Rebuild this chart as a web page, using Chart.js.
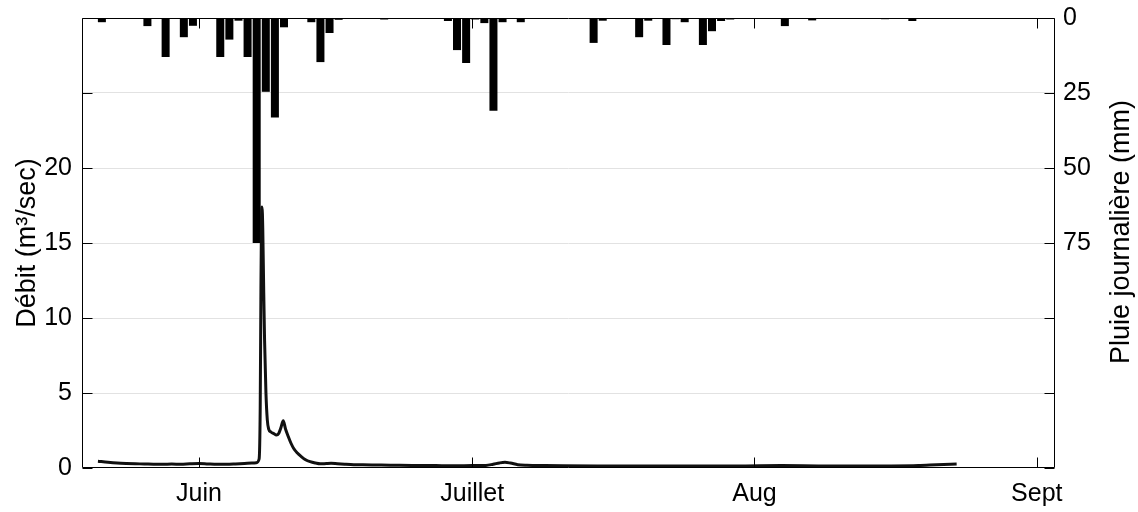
<!DOCTYPE html>
<html>
<head>
<meta charset="utf-8">
<title>Débit et pluie journalière</title>
<script src="https://cdn.jsdelivr.net/npm/chart.js@4.4.1/dist/chart.umd.min.js"></script>
<style>
  html, body { margin: 0; padding: 0; background: #fff; }
  #wrap { width: 1138px; height: 512px; }
</style>
</head>
<body>
<div id="wrap"><canvas id="chart" width="1138" height="512"></canvas></div>
<script>
// Time axis: days counted from 1 June, 00:00
const monthTickDays = [0, 30, 61, 92];
const monthLabels = ['Juin', 'Juillet', 'Aug', 'Sept'];
const dayRange = [-12.85, 94];

// Daily rainfall (mm), read at 08:00 each day
const READING_HOUR = 8;
const rainDays = [-11, -6, -4, -2, -1, 2, 3, 4, 5, 6, 7, 8, 9, 12, 13, 14, 15, 20,
                  27, 28, 29, 30, 31, 32, 33, 35, 43, 44, 48, 49, 51, 52, 53, 55, 56,
                  57, 58, 64, 67, 75, 78];
const rainMm = [1.4, 2.7, 13, 6.4, 2.6, 13, 7.2, 0.9, 13, 75, 24.6, 33.2, 3.1, 1.4, 14.7, 5, 0.6, 0.5,
                1, 10.7, 15, 0.5, 1.7, 30.9, 1.4, 1.4, 8.3, 0.9, 6.4, 0.9, 9, 0.4, 1.4, 9, 4.4,
                1, 0.5, 2.7, 0.8, 0.4, 1];

// Stream discharge (m³/s)
const flowDays = [-11.1, -10, -9, -8, -7, -6, -5, -4, -3, -2, -1, 0, 1, 2, 3, 4, 5, 5.8, 6.3,
                  6.6, 6.72, 6.8, 6.86, 6.92, 7.0, 7.1, 7.2, 7.35, 7.5, 7.65, 7.9, 8.2, 8.5,
                  8.75, 9.0, 9.25, 9.5, 9.8, 10.1, 10.4, 10.8, 11.2, 11.7, 12.2, 12.8, 13.3,
                  14.0, 14.5, 15.2, 16, 17, 18, 20, 22, 24, 26, 28, 30, 31.5, 32.3, 33, 33.6,
                  34.2, 35, 36, 38, 40, 44, 48, 52, 56, 60, 64, 68, 72, 76, 79, 81, 83.2];
const flowM3s = [0.45, 0.38, 0.33, 0.3, 0.28, 0.27, 0.25, 0.25, 0.26, 0.25, 0.28, 0.3, 0.27, 0.25, 0.25, 0.27, 0.3, 0.33, 0.35,
                 0.6, 4, 12, 16.5, 17.4, 16, 12, 8.5, 5, 3.2, 2.6, 2.4, 2.3, 2.2,
                 2.3, 2.7, 3.15, 2.6, 2.1, 1.65, 1.3, 1.0, 0.78, 0.55, 0.42, 0.33, 0.28,
                 0.3, 0.31, 0.28, 0.25, 0.22, 0.21, 0.2, 0.18, 0.17, 0.16, 0.15, 0.16, 0.17, 0.25, 0.34, 0.38,
                 0.33, 0.22, 0.18, 0.16, 0.15, 0.14, 0.14, 0.13, 0.13, 0.14, 0.16, 0.14, 0.13, 0.14, 0.17, 0.22, 0.27];

// Axis ticks
const flowAxisRange = [0, 30];
const flowTickStep = 5;
const flowTickLabels = [0, 5, 10, 15, 20];
const rainAxisRange = [0, 150];
const rainTickStep = 25;
const rainTickLabels = [0, 25, 50, 75];

const FONT = '"Liberation Sans", Arial, Helvetica, sans-serif';
Chart.defaults.font.family = FONT;
Chart.defaults.color = '#000';

// Fixed axis box sizes; no extra edge padding for the outer tick labels
function fixBox(size) {
  return s => {
    if (s.isHorizontal()) s.height = size; else s.width = size;
    s.paddingTop = 0; s.paddingBottom = 0; s.paddingLeft = 0; s.paddingRight = 0;
  };
}

// Box around the plot area with inward tick marks on all four sides
const framePlugin = {
  id: 'frame',
  afterDatasetsDraw(chart) {
    const { ctx, chartArea: { left, right, top, bottom }, scales: { x, y, y2 } } = chart;
    const L = 10;
    ctx.save();
    ctx.strokeStyle = '#000';
    ctx.lineWidth = 1;
    ctx.beginPath();
    const l = Math.round(left) + 0.5, r = Math.round(right) - 0.5;
    const t = Math.round(top) + 0.5, b = Math.round(bottom) - 0.5;
    ctx.rect(l, t, r - l, b - t);
    for (let v = flowAxisRange[0]; v <= flowAxisRange[1]; v += flowTickStep) {
      const py = Math.round(y.getPixelForValue(v)) + 0.5;
      ctx.moveTo(l, py); ctx.lineTo(l + L, py);
    }
    for (let v = rainAxisRange[0]; v <= rainAxisRange[1]; v += rainTickStep) {
      const py = Math.round(y2.getPixelForValue(v)) + 0.5;
      ctx.moveTo(r, py); ctx.lineTo(r - L, py);
    }
    monthTickDays.forEach(d => {
      const px = Math.round(x.getPixelForValue(d)) + 0.5;
      ctx.moveTo(px, b); ctx.lineTo(px, b - L);
      ctx.moveTo(px, t); ctx.lineTo(px, t + L);
    });
    ctx.stroke();
    ctx.restore();
  }
};

// Vertical axis titles, both reading bottom to top
const axisTitlePlugin = {
  id: 'axisTitles',
  afterDraw(chart) {
    const { ctx, chartArea: { top, bottom } } = chart;
    const mid = (top + bottom) / 2;
    ctx.save();
    ctx.fillStyle = '#000';
    ctx.font = '27px ' + FONT;
    ctx.textAlign = 'center';
    ctx.textBaseline = 'alphabetic';
    ctx.translate(35, mid);
    ctx.rotate(-Math.PI / 2);
    ctx.fillText('Débit (m³/sec)', 0, 0);
    ctx.restore();

    ctx.save();
    ctx.fillStyle = '#000';
    ctx.font = '27px ' + FONT;
    ctx.textAlign = 'center';
    ctx.textBaseline = 'alphabetic';
    ctx.translate(1129, mid - 11);
    ctx.rotate(-Math.PI / 2);
    ctx.fillText('Pluie journalière (mm)', 0, 0);
    ctx.restore();
  }
};

new Chart(document.getElementById('chart'), {
  type: 'line',
  data: {
    datasets: [
      {
        type: 'line',
        label: 'Débit',
        data: flowDays.map((d, i) => ({ x: d, y: flowM3s[i] })),
        yAxisID: 'y',
        borderColor: '#111',
        borderWidth: 3,
        pointRadius: 0,
        cubicInterpolationMode: 'monotone',
        fill: false,
        order: 0
      },
      {
        type: 'bar',
        label: 'Pluie',
        data: rainDays.map((d, i) => ({ x: d + READING_HOUR / 24, y: rainMm[i] })),
        yAxisID: 'y2',
        backgroundColor: '#000',
        borderWidth: 0,
        categoryPercentage: 1,
        barPercentage: 0.88,
        order: 1
      }
    ]
  },
  options: {
    responsive: false,
    animation: false,
    events: [],
    layout: { padding: { top: 18, left: 0, right: 0, bottom: 0 } },
    plugins: { legend: { display: false }, tooltip: { enabled: false } },
    scales: {
      x: {
        type: 'linear',
        position: 'bottom',
        min: dayRange[0],
        max: dayRange[1],
        offset: false,
        afterBuildTicks: s => { s.ticks = monthTickDays.map(v => ({ value: v })); },
        ticks: {
          autoSkip: false,
          maxRotation: 0,
          font: { size: 25 },
          padding: 11,
          callback: v => {
            const i = monthTickDays.indexOf(v);
            return i >= 0 ? monthLabels[i] : '';
          }
        },
        grid: { display: false, drawTicks: false },
        border: { display: false },
        afterFit: fixBox(44)
      },
      y: {
        position: 'left',
        min: flowAxisRange[0],
        max: flowAxisRange[1],
        ticks: {
          stepSize: flowTickStep,
          font: { size: 25 },
          padding: 10,
          callback: v => flowTickLabels.includes(v) ? String(v) : ''
        },
        grid: {
          drawTicks: false,
          lineWidth: 1,
          color: c => (c.tick && c.tick.value > flowAxisRange[0] && c.tick.value < flowAxisRange[1]) ? '#e2e2e2' : 'rgba(0,0,0,0)'
        },
        border: { display: false },
        afterFit: fixBox(82)
      },
      y2: {
        position: 'right',
        min: rainAxisRange[0],
        max: rainAxisRange[1],
        reverse: true,
        ticks: {
          stepSize: rainTickStep,
          font: { size: 25 },
          padding: 8,
          callback: v => rainTickLabels.includes(v) ? String(v) : ''
        },
        grid: { display: false, drawTicks: false },
        border: { display: false },
        afterFit: fixBox(83)
      }
    }
  },
  plugins: [framePlugin, axisTitlePlugin]
});
</script>
</body>
</html>
